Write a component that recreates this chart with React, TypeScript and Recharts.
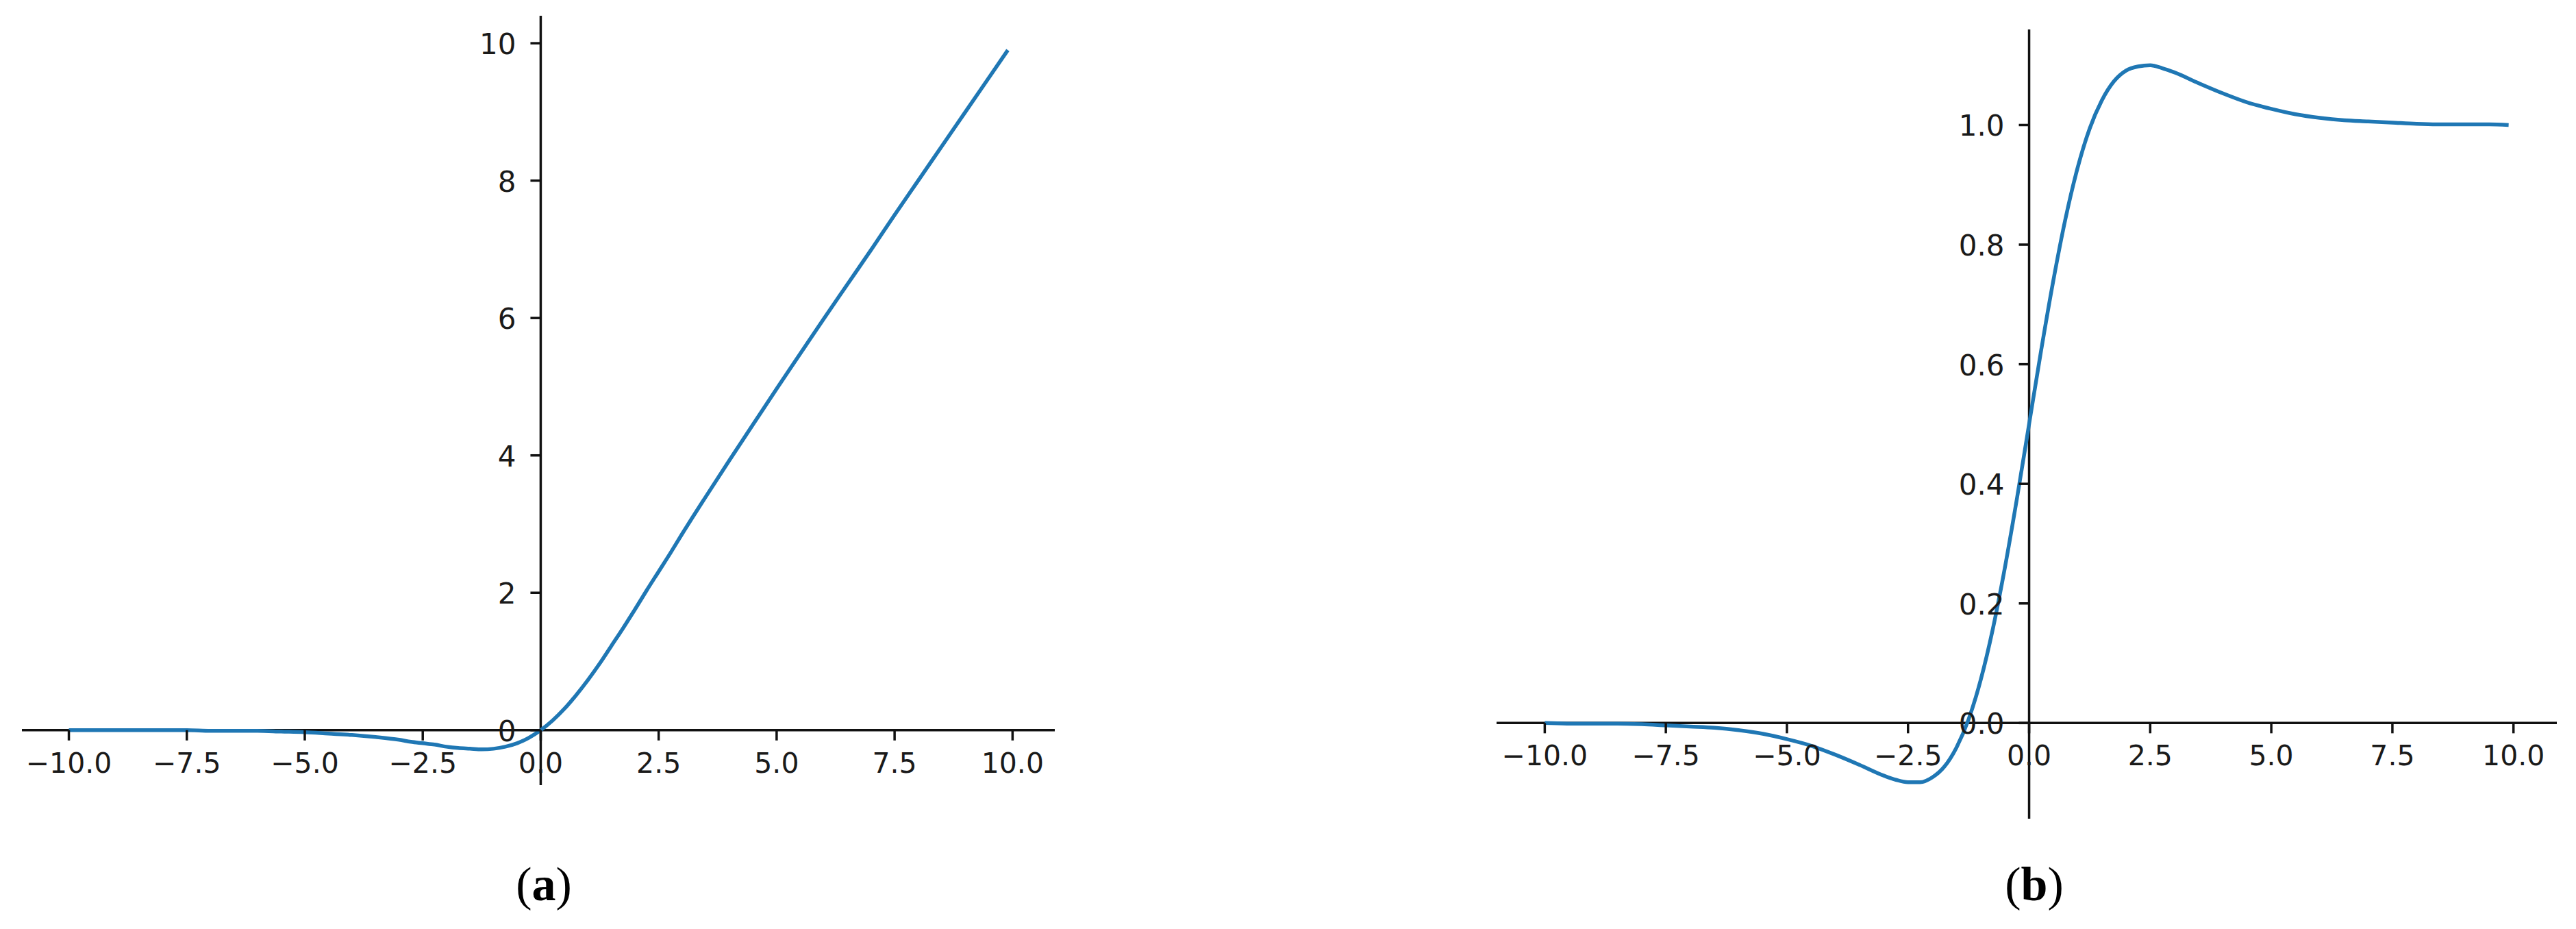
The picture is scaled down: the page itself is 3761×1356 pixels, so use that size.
import React from "react";
import { LineChart, Line, XAxis, YAxis, ReferenceLine, ReferenceDot } from "recharts";

// x sample positions
const xs = [
  -10, -9.5, -9, -8.5, -8, -7.5, -7, -6.5, -6, -5.5, -5, -4.5, -4, -3.5, -3,
  -2.75, -2.5, -2.25, -2, -1.75, -1.5, -1.25, -1, -0.75, -0.5, -0.25, 0,
  0.25, 0.5, 0.75, 1, 1.25, 1.5, 1.75, 2, 2.25, 2.5, 2.75, 3, 3.5, 4, 4.5,
  5, 5.5, 6, 6.5, 7, 7.5, 8, 8.5, 9, 9.5, 9.9,
];

// panel (a) curve values
const activation = [
  -0.0, -0.0, -0.0, -0.0, -0.0, -0.0, -0.01, -0.01, -0.01, -0.02, -0.03, -0.05,
  -0.07, -0.1, -0.14, -0.17, -0.19, -0.21, -0.24, -0.26, -0.27, -0.28, -0.27,
  -0.24, -0.19, -0.11, 0.0, 0.14, 0.31, 0.51, 0.73, 0.97, 1.23, 1.49, 1.76,
  2.04, 2.31, 2.58, 2.86, 3.4, 3.93, 4.45, 4.97, 5.48, 5.99, 6.49, 6.99, 7.5,
  8.0, 8.5, 9.0, 9.5, 9.9,
];

// panel (b) curve values
const derivative = [
  -0.0, -0.001, -0.001, -0.001, -0.002, -0.004, -0.006, -0.008, -0.012, -0.018,
  -0.027, -0.038, -0.053, -0.07, -0.088, -0.095, -0.099, -0.099, -0.091,
  -0.073, -0.041, 0.006, 0.072, 0.157, 0.26, 0.376, 0.5, 0.624, 0.74, 0.843,
  0.928, 0.994, 1.041, 1.073, 1.091, 1.098, 1.1, 1.095, 1.088, 1.07, 1.053,
  1.038, 1.027, 1.018, 1.012, 1.008, 1.006, 1.004, 1.002, 1.001, 1.001, 1.001,
  1.0,
];

const xTicks = [-10, -7.5, -5, -2.5, 0, 2.5, 5, 7.5, 10];
const xTickLabels = ["−10.0", "−7.5", "−5.0", "−2.5", "0.0", "2.5", "5.0", "7.5", "10.0"];

const yTicksA = [0, 2, 4, 6, 8, 10];
const yTickLabelsA = ["0", "2", "4", "6", "8", "10"];

const yTicksB = [0, 0.2, 0.4, 0.6, 0.8, 1.0];
const yTickLabelsB = ["0.0", "0.2", "0.4", "0.6", "0.8", "1.0"];

const FONT = "DejaVu Sans";
const TEXT = "#1a1a1a";
const AXIS = "#111";
const LINE = "#1f77b4";

type PanelProps = {
  left: number;
  top: number;
  width: number;
  height: number;
  values: number[];
  xDomain: [number, number];
  yDomain: [number, number];
  yTicks: number[];
  yLabels: string[];
};

function Panel(p: PanelProps) {
  const data = xs.map((x, i) => ({ x, y: p.values[i] }));
  return (
    <div style={{ position: "absolute", left: p.left, top: p.top }}>
      <LineChart
        width={p.width}
        height={p.height}
        data={data}
        margin={{ top: 0, right: 0, bottom: 0, left: 0 }}
        style={{ overflow: "visible" }}
      >
        <XAxis type="number" dataKey="x" domain={p.xDomain} allowDataOverflow hide />
        <YAxis type="number" domain={p.yDomain} allowDataOverflow hide />
        <ReferenceLine x={0} stroke={AXIS} strokeWidth={3.5} />
        <ReferenceLine y={0} stroke={AXIS} strokeWidth={3.5} />
        <Line
          type="monotone"
          dataKey="y"
          stroke={LINE}
          strokeWidth={5.5}
          dot={false}
          isAnimationActive={false}
        />
        {xTicks.map((v, i) => (
          <ReferenceDot
            key={"xt" + i}
            x={v}
            y={0}
            r={1}
            ifOverflow="visible"
            shape={(sp: any) => (
              <g>
                <line x1={sp.cx} y1={sp.cy} x2={sp.cx} y2={sp.cy + 15} stroke={AXIS} strokeWidth={3.5} />
                <text
                  x={sp.cx}
                  y={sp.cy + 62}
                  textAnchor="middle"
                  fontFamily={FONT}
                  fontSize={41}
                  fill={TEXT}
                >
                  {xTickLabels[i]}
                </text>
              </g>
            )}
          />
        ))}
        {p.yTicks.map((v, i) => (
          <ReferenceDot
            key={"yt" + i}
            x={0}
            y={v}
            r={1}
            ifOverflow="visible"
            shape={(sp: any) => (
              <g>
                <line x1={sp.cx - 15} y1={sp.cy} x2={sp.cx} y2={sp.cy} stroke={AXIS} strokeWidth={3.5} />
                <text
                  x={sp.cx - 36}
                  y={sp.cy + 16}
                  textAnchor="end"
                  fontFamily={FONT}
                  fontSize={42}
                  fill={TEXT}
                >
                  {p.yLabels[i]}
                </text>
              </g>
            )}
          />
        ))}
      </LineChart>
    </div>
  );
}

export default function App() {
  return (
    <div
      style={{
        position: "absolute",
        left: 0,
        top: 0,
        width: 3761,
        height: 1356,
        background: "#fff",
        overflow: "hidden",
      }}
    >
      <Panel
        left={32}
        top={23}
        width={1508}
        height={1123}
        values={activation}
        xDomain={[-10.995, 10.895]}
        yDomain={[-0.8, 10.4]}
        yTicks={yTicksA}
        yLabels={yTickLabelsA}
      />
      <Panel
        left={2185}
        top={43}
        width={1548}
        height={1152}
        values={derivative}
        xDomain={[-10.995, 10.895]}
        yDomain={[-0.16, 1.1598]}
        yTicks={yTicksB}
        yLabels={yTickLabelsB}
      />
      <svg
        width={3761}
        height={1356}
        style={{ position: "absolute", left: 0, top: 0, pointerEvents: "none" }}
      >
        <text
          x={794}
          y={1314}
          textAnchor="middle"
          fontFamily="'Palatino Linotype', 'Book Antiqua', 'Liberation Serif', serif"
          fontSize={70}
          fill="#000"
        >
          (<tspan fontWeight="bold">a</tspan>)
        </text>
        <text
          x={2970}
          y={1314}
          textAnchor="middle"
          fontFamily="'Palatino Linotype', 'Book Antiqua', 'Liberation Serif', serif"
          fontSize={70}
          fill="#000"
        >
          (<tspan fontWeight="bold">b</tspan>)
        </text>
      </svg>
    </div>
  );
}
